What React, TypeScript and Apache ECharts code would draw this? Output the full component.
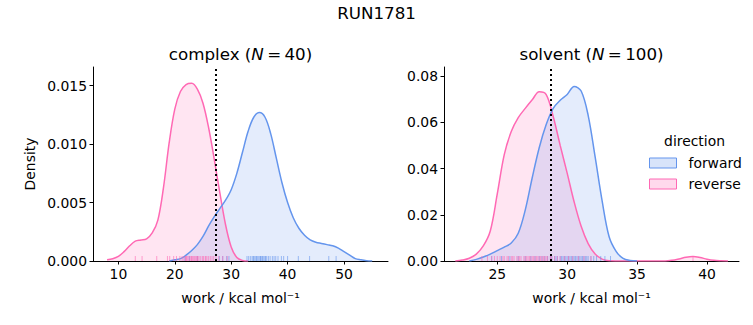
import React, { useEffect, useRef } from "react";
import * as echarts from "echarts";

// ---------- data ----------
const complexReverseKde: [number, number][] = [
  [8, 0.0001], [9, 0.0002], [10, 0.0004], [11, 0.0008], [12, 0.0013], [13, 0.0017],
  [14, 0.0018], [15, 0.0019], [16, 0.0024], [17, 0.0035], [18, 0.0063], [19, 0.0101],
  [20, 0.013], [21, 0.0145], [22, 0.0151], [23, 0.0152], [24, 0.0147], [25, 0.0135],
  [26, 0.0114], [27, 0.0087], [28, 0.0058], [29, 0.0031], [30, 0.0012], [31, 0.0003],
  [32, 0.00005], [33, 0],
];
const complexForwardKde: [number, number][] = [
  [19, 0], [20, 0.0001], [21, 0.0002], [22, 0.0005], [23, 0.0009], [24, 0.0014],
  [25, 0.0021], [26, 0.003], [27, 0.0038], [28, 0.0045], [29, 0.0052], [30, 0.0061],
  [31, 0.0075], [32, 0.0093], [33, 0.0111], [34, 0.0123], [35, 0.0127], [36, 0.0123],
  [37, 0.0109], [38, 0.0088], [39, 0.0067], [40, 0.005], [41, 0.0037], [42, 0.0028],
  [43, 0.0022], [44, 0.0018], [45, 0.0016], [46, 0.0015], [47, 0.0014], [48, 0.0013],
  [49, 0.0011], [50, 0.0008], [51, 0.0005], [52, 0.0002], [53, 0.0001], [54, 0.00003],
  [55, 0],
];
const solventReverseKde: [number, number][] = [
  [22, 0], [22.5, 0.0004], [23, 0.0012], [23.5, 0.003], [24, 0.0065], [24.5, 0.013],
  [25, 0.029], [25.5, 0.046], [26, 0.056], [26.5, 0.062], [27, 0.066], [27.5, 0.0697],
  [28, 0.0732], [28.5, 0.072], [29, 0.0625], [29.5, 0.05], [30, 0.038], [30.5, 0.0255],
  [31, 0.015], [31.5, 0.0075], [32, 0.003], [32.5, 0.0008], [33, 0.0001], [34, 0],
  [37, 0], [37.5, 0.0003], [38, 0.0009], [38.5, 0.0016], [39, 0.0019], [39.5, 0.0015],
  [40, 0.0008], [40.5, 0.0003], [41, 0.0001], [41.5, 0],
];
const solventForwardKde: [number, number][] = [
  [23, 0], [23.5, 0.0007], [24, 0.0017], [24.5, 0.003], [25, 0.0045], [25.5, 0.006],
  [26, 0.0078], [26.5, 0.012], [27, 0.022], [27.5, 0.036], [28, 0.049], [28.5, 0.059],
  [29, 0.066], [29.5, 0.0695], [30, 0.072], [30.5, 0.0755], [31, 0.0735], [31.5, 0.063],
  [32, 0.045], [32.5, 0.026], [33, 0.0105], [33.5, 0.0042], [34, 0.0011], [34.5, 0.0002],
  [35, 0],
];

const complexRugReverse = [
  13.0, 14.2, 16.8, 18.7, 19.1, 19.8, 20.3, 20.9, 21.3, 21.6, 21.9, 22.0, 22.1, 22.3, 22.5,
  22.7, 22.9, 23.0, 23.1, 23.3, 23.5, 23.7, 23.9, 24.0, 24.1, 24.3, 24.6, 24.9, 25.1, 25.4,
  25.5, 25.7, 26.0, 26.3, 26.6, 26.9, 27.3, 27.8, 28.5, 29.3,
];
const complexRugForward = [
  21.8, 22.6, 24.0, 27.9, 28.5, 29.2, 29.6, 32.8, 33.1, 33.4, 33.7, 33.9, 34.0, 34.2, 34.4,
  34.5, 34.7, 34.9, 35.1, 35.2, 35.3, 35.5, 35.6, 35.8, 36.0, 36.1, 36.3, 36.6, 36.9, 37.3,
  37.6, 37.9, 38.3, 38.9, 39.3, 40.0, 41.9, 43.9, 47.3, 48.6,
];
const solventRugReverse = [
  23.9, 24.3, 24.6, 24.8, 25.0, 25.2, 25.4, 25.5, 25.7, 25.8, 26.0, 26.1, 26.2, 26.4, 26.5,
  26.6, 26.7, 26.9, 27.0, 27.1, 27.2, 27.3, 27.4, 27.5, 27.6, 27.7, 27.8, 27.9, 28.0, 28.1,
  28.2, 28.3, 28.4, 28.5, 28.6, 28.8, 28.9, 29.1, 29.3, 29.5, 29.8, 30.1, 30.4, 30.8, 31.2,
  31.7, 39.0,
];
const solventRugForward = [
  24.6, 25.3, 25.9, 26.5, 27.0, 27.4, 27.7, 28.0, 28.2, 28.4, 28.6, 28.8, 28.9, 29.1, 29.2,
  29.3, 29.5, 29.6, 29.7, 29.8, 29.9, 30.0, 30.1, 30.2, 30.3, 30.4, 30.5, 30.6, 30.7, 30.8,
  30.9, 31.0, 31.1, 31.2, 31.3, 31.4, 31.5, 31.7, 31.9, 32.1, 32.4, 32.7, 33.1,
];

const complexMarker = 27.3;
const solventMarker = 28.79;

const complexXTicks = [10, 20, 30, 40, 50];
const solventXTicks = [25, 30, 35, 40];
const complexYTicks = [0, 0.005, 0.01, 0.015];
const solventYTicks = [0, 0.02, 0.04, 0.06, 0.08];

const suptitle = "RUN1781";
const complexTitle = "{a|complex (}{i|N}{a|\u2009=\u200940)}";
const solventTitle = "{a|solvent (}{i|N}{a|\u2009=\u2009100)}";
const xName = "work / kcal mol⁻¹";
const yName = "Density";
const legendTitle = "direction";
const directions = ["forward", "reverse"];

// ---------- styles ----------
const FONT = "DejaVu Sans";
const BLUE = "#6495ED";
const PINK = "#FF69B4";
const BLUE_FILL = "rgba(100,149,237,0.25)";
const PINK_FILL = "rgba(255,105,180,0.25)";
const FS = 13.9;

function kdeSeries(name: string, data: [number, number][], idx: number, color: string, fill: string, marker?: number) {
  const s: any = {
    name,
    type: "line",
    xAxisIndex: idx,
    yAxisIndex: idx,
    data,
    smooth: 0.35,
    showSymbol: false,
    symbol: "none",
    lineStyle: { color, width: 1.5 },
    itemStyle: { color },
    areaStyle: { color: fill, origin: "start" },
    silent: true,
  };
  if (marker !== undefined) {
    s.markLine = {
      silent: true,
      symbol: "none",
      label: { show: false },
      lineStyle: { color: "#000", type: [2, 3], width: 2 },
      data: [{ xAxis: marker }],
    };
  }
  return s;
}

function rugSeries(name: string, values: number[], idx: number, color: string) {
  return {
    name,
    type: "scatter",
    xAxisIndex: idx,
    yAxisIndex: idx,
    data: values.map((v) => [v, 0]),
    symbol: "rect",
    symbolSize: [1, 5],
    symbolOffset: [0, -2.5],
    itemStyle: { color, opacity: 0.6 },
    clip: false,
    silent: true,
    z: 3,
  };
}

function xAxis(idx: number, min: number, max: number, ticks: number[]) {
  return {
    gridIndex: idx,
    type: "value",
    min,
    max,
    axisLine: { show: true, lineStyle: { color: "#000", width: 1 } },
    axisTick: { show: true, length: 3.5, customValues: ticks, lineStyle: { color: "#000" } },
    axisLabel: { customValues: ticks, fontSize: FS, fontFamily: FONT, color: "#000", margin: 6 },
    splitLine: { show: false },
    name: xName,
    nameLocation: "middle",
    nameGap: 30,
    nameTextStyle: { fontSize: FS, fontFamily: FONT, color: "#000" },
  };
}

function yAxis(idx: number, max: number, ticks: number[], digits: number, name?: string) {
  return {
    gridIndex: idx,
    type: "value",
    min: 0,
    max,
    axisLine: { show: true, lineStyle: { color: "#000", width: 1 } },
    axisTick: { show: true, length: 3.5, customValues: ticks, lineStyle: { color: "#000" } },
    axisLabel: {
      customValues: ticks,
      fontSize: FS,
      fontFamily: FONT,
      color: "#000",
      margin: 6,
      formatter: (v: number) => v.toFixed(digits),
    },
    splitLine: { show: false },
    name: name || "",
    nameLocation: "middle",
    nameGap: 56,
    nameTextStyle: { fontSize: FS, fontFamily: FONT, color: "#000" },
  };
}

export default function App() {
  const ref = useRef<HTMLDivElement>(null);
  useEffect(() => {
    if (!ref.current) return;
    const chart = echarts.init(ref.current, undefined, { renderer: "svg" });
    const richTitle = {
      a: { fontSize: 16.7, fontFamily: FONT, fill: "#000" },
      i: { fontSize: 16.7, fontFamily: FONT, fontStyle: "italic", fill: "#000" },
    };
    const option: any = {
      animation: false,
      backgroundColor: "#fff",
      textStyle: { fontFamily: FONT },
      grid: [
        { left: 93, top: 67, width: 295, height: 194 },
        { left: 444, top: 67, width: 295, height: 194 },
      ],
      xAxis: [
        xAxis(0, 5.5, 57.8, complexXTicks),
        xAxis(1, 21.19, 42.29, solventXTicks),
      ],
      yAxis: [
        yAxis(0, 0.0166, complexYTicks, 3, yName),
        yAxis(1, 0.0839, solventYTicks, 2),
      ],
      legend: {
        show: true,
        orient: "vertical",
        left: 649,
        top: 156,
        padding: 0,
        itemWidth: 27,
        itemHeight: 10,
        itemGap: 7,
        icon: "rect",
        selectedMode: false,
        textStyle: { fontSize: FS, fontFamily: FONT, color: "#000", lineHeight: 14, padding: [0, 0, 0, 7] },
        data: [
          { name: directions[0], icon: "rect", itemStyle: { color: BLUE_FILL, borderColor: BLUE, borderWidth: 1 } },
          { name: directions[1], icon: "rect", itemStyle: { color: PINK_FILL, borderColor: PINK, borderWidth: 1 } },
        ],
      },
      graphic: [
        {
          type: "text",
          x: 376.5,
          y: 13,
          style: { text: suptitle, fontSize: 16.7, fontFamily: FONT, fill: "#000", align: "center", verticalAlign: "middle" },
        },
        {
          type: "text",
          x: 240.5,
          y: 54,
          style: {
            text: complexTitle, fontSize: 16.7, fontFamily: FONT, fill: "#000",
            align: "center", verticalAlign: "middle", rich: richTitle,
          },
        },
        {
          type: "text",
          x: 591.5,
          y: 54,
          style: {
            text: solventTitle, fontSize: 16.7, fontFamily: FONT, fill: "#000",
            align: "center", verticalAlign: "middle", rich: richTitle,
          },
        },
        {
          type: "text",
          x: 694.5,
          y: 141,
          style: { text: legendTitle, fontSize: FS, fontFamily: FONT, fill: "#000", align: "center", verticalAlign: "middle" },
        },
      ],
      series: [
        kdeSeries(directions[1], complexReverseKde, 0, PINK, PINK_FILL),
        kdeSeries(directions[0], complexForwardKde, 0, BLUE, BLUE_FILL, complexMarker),
        rugSeries("forward rug", complexRugForward, 0, BLUE),
        rugSeries("reverse rug", complexRugReverse, 0, PINK),
        kdeSeries(directions[1], solventReverseKde, 1, PINK, PINK_FILL),
        kdeSeries(directions[0], solventForwardKde, 1, BLUE, BLUE_FILL, solventMarker),
        rugSeries("forward rug", solventRugForward, 1, BLUE),
        rugSeries("reverse rug", solventRugReverse, 1, PINK),
      ],
    };
    chart.setOption(option);
    return () => chart.dispose();
  }, []);
  return <div ref={ref} style={{ width: 753, height: 325, position: "absolute", left: 0, top: 0 }} />;
}
